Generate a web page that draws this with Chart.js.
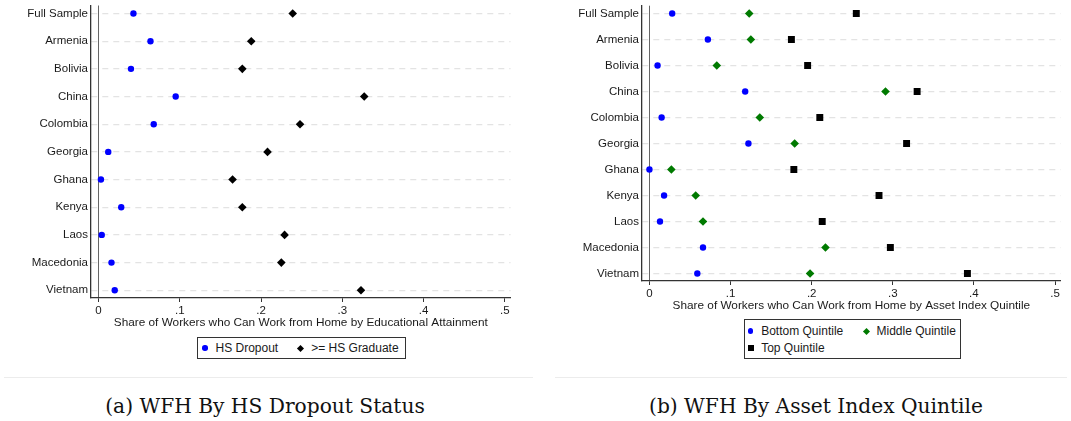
<!DOCTYPE html>
<html>
<head>
<meta charset="utf-8">
<script src="https://cdn.jsdelivr.net/npm/chart.js@4/dist/chart.umd.min.js"></script>
<style>
body { margin: 0; background: #fff; width: 1071px; height: 421px; position: relative; overflow: hidden;
       font-family: 'Liberation Sans', Arial, sans-serif; color: #1a1a1a; }
canvas { position: absolute; top: 0; }
.legend { position: absolute; border: 1px solid #333; box-sizing: border-box; }
.item { position: absolute; font-size: 12px; line-height: 14px; white-space: nowrap; transform: translateY(-50%); }
.mk { position: absolute; }
.sep { position: absolute; top: 377px; height: 1px; background: #ececec; }
.caption { position: absolute; top: 394px; font-family: 'DejaVu Serif', serif; font-size: 20.2px; line-height: 25px;
           transform: translateX(-50%); white-space: nowrap; color: #111; }
</style>
</head>
<body>
<canvas id="chartA" width="530" height="332" style="left:0px"></canvas>
<canvas id="chartB" width="531" height="315" style="left:540px"></canvas>
<div class="legend" style="left:197px;top:337px;width:209px;height:22px"></div>
<div class="legend" style="left:744px;top:319px;width:217px;height:40px"></div>
<div class="sep" style="left:4px;width:529px"></div>
<div class="sep" style="left:555px;width:512px"></div>
<div class="caption" style="left:265px">(a) WFH By HS Dropout Status</div>
<div class="caption" style="left:816px">(b) WFH By Asset Index Quintile</div>
<script>
var countries = ['Full Sample', 'Armenia', 'Bolivia', 'China', 'Colombia', 'Georgia',
                 'Ghana', 'Kenya', 'Laos', 'Macedonia', 'Vietnam'];

// panel (a)
var hsDropout  = [0.043, 0.064, 0.040, 0.095, 0.068, 0.012, 0.003, 0.028, 0.004, 0.016, 0.020];
var hsGraduate = [0.239, 0.188, 0.177, 0.327, 0.248, 0.208, 0.165, 0.177, 0.229, 0.225, 0.323];

// panel (b)
var bottomQuintile = [0.028, 0.072, 0.010, 0.118, 0.015, 0.122, 0.000, 0.018, 0.013, 0.066, 0.059];
var middleQuintile = [0.123, 0.125, 0.083, 0.291, 0.136, 0.179, 0.027, 0.057, 0.066, 0.217, 0.198];
var topQuintile    = [0.255, 0.175, 0.195, 0.330, 0.210, 0.317, 0.178, 0.283, 0.213, 0.297, 0.392];

var xTickValues = [0, 0.1, 0.2, 0.3, 0.4, 0.5];
var xTickLabels = ['0', '.1', '.2', '.3', '.4', '.5'];

var blue = '#0000ff', green = '#007a00', black = '#000000';
var textColor = '#1a1a1a';
var fontFamily = "'Liberation Sans', Arial, sans-serif";

function points(values) {
  return values.map(function (v, i) { return { x: v, y: i }; });
}

function series(label, values, color, style, radius) {
  return {
    label: label,
    data: points(values),
    pointStyle: style,
    pointRadius: radius,
    pointBackgroundColor: color,
    pointBorderWidth: 0,
    showLine: false
  };
}

function makeChart(id, datasets, xTitle, yWidth, yMin, yMax, padTop, padRight) {
  return new Chart(document.getElementById(id), {
    type: 'scatter',
    data: { datasets: datasets },
    options: {
      responsive: false,
      animation: false,
      layout: { padding: { top: padTop, right: padRight, left: 0, bottom: 0 } },
      plugins: { legend: { display: false }, tooltip: { enabled: false } },
      scales: {
        x: {
          min: -0.0092,
          max: 0.507,
          afterBuildTicks: function (s) { s.ticks = xTickValues.map(function (v) { return { value: v }; }); },
          afterFit: function (s) { s.height = 34; s.paddingLeft = 0; s.paddingRight = 0; },
          ticks: {
            callback: function (v, i) { return xTickLabels[i]; },
            font: { family: fontFamily, size: 11.5 },
            color: textColor,
            padding: 2,
            maxRotation: 0
          },
          grid: {
            color: function (c) { return c.tick && c.tick.value === 0 ? '#666666' : 'rgba(0,0,0,0)'; },
            tickColor: '#333',
            tickLength: 4,
            lineWidth: 1
          },
          border: { color: '#333', width: 1.3 },
          title: {
            display: true,
            text: xTitle,
            font: { family: fontFamily, size: 11.8 },
            color: textColor,
            padding: { top: 0, bottom: 2 }
          }
        },
        y: {
          reverse: true,
          min: yMin,
          max: yMax,
          afterBuildTicks: function (s) { s.ticks = countries.map(function (c, i) { return { value: i }; }); },
          afterFit: function (s) { s.width = yWidth; s.paddingTop = 0; s.paddingBottom = 0; },
          ticks: {
            callback: function (v) { return countries[v]; },
            font: { family: fontFamily, size: 11.5 },
            color: textColor,
            padding: 3,
            autoSkip: false
          },
          grid: { color: '#e3e3e3', lineWidth: 1.2, drawTicks: false },
          border: { color: '#333', width: 1.3, dash: [6, 5] }
        }
      }
    }
  });
}

makeChart('chartA', [
  series('HS Dropout', hsDropout, blue, 'circle', 3.2),
  series('>= HS Graduate', hsGraduate, black, 'rectRot', 4.3)
], 'Share of Workers who Can Work from Home by Educational Attainment', 91, -0.29, 10.28, 5.5, 19.5);

makeChart('chartB', [
  series('Bottom Quintile', bottomQuintile, blue, 'circle', 3.2),
  series('Middle Quintile', middleQuintile, green, 'rectRot', 4.3),
  series('Top Quintile', topQuintile, black, 'rect', 4.9)
], 'Share of Workers who Can Work from Home by Asset Index Quintile', 102, -0.3, 10.29, 5.7, 10.3);

// legends (symbol, label) with their placement in the page
var legendItems = [
  { label: 'HS Dropout', color: blue, shape: 'circle', x: 205, y: 348 },
  { label: '>= HS Graduate', color: black, shape: 'diamond', x: 300.7, y: 348 },
  { label: 'Bottom Quintile', color: blue, shape: 'circle', x: 750.7, y: 331 },
  { label: 'Middle Quintile', color: green, shape: 'diamond', x: 866, y: 331 },
  { label: 'Top Quintile', color: black, shape: 'square', x: 750.7, y: 348.3 }
];

legendItems.forEach(function (it) {
  var m = document.createElement('div');
  m.className = 'mk';
  var size = it.shape === 'circle' ? 5.5 : (it.shape === 'diamond' ? 5 : 6);
  m.style.width = size + 'px';
  m.style.height = size + 'px';
  m.style.left = (it.x - size / 2) + 'px';
  m.style.top = (it.y - size / 2) + 'px';
  m.style.background = it.color;
  if (it.shape === 'circle') m.style.borderRadius = '50%';
  if (it.shape === 'diamond') m.style.transform = 'rotate(45deg)';
  document.body.appendChild(m);

  var t = document.createElement('div');
  t.className = 'item';
  t.textContent = it.label;
  t.style.left = (it.x + 10.5) + 'px';
  t.style.top = it.y + 'px';
  document.body.appendChild(t);
});
</script>
</body>
</html>
